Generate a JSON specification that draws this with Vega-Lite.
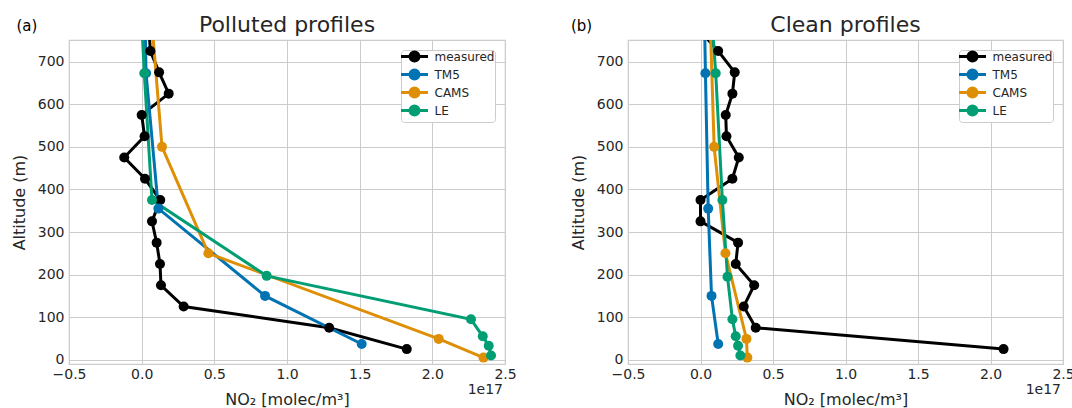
{
  "$schema": "https://vega.github.io/schema/vega-lite/v6.json",
  "background": "white",
  "padding": {"left": 10, "top": 13, "right": 0, "bottom": 2},
  "config": {
    "font": "DejaVu Sans",
    "view": {"stroke": "#cccccc", "strokeWidth": 1.2},
    "axis": {"grid": true, "gridColor": "#cccccc", "gridWidth": 1, "domain": false, "ticks": false, "labelFontSize": 14, "labelColor": "#262626", "titleFontSize": 16, "titleFontWeight": "normal", "titleColor": "#262626", "labelFont": "DejaVu Sans", "titleFont": "DejaVu Sans", "labelFlush": false, "labelOverlap": false},
    "title": {"fontSize": 22, "fontWeight": "normal", "font": "DejaVu Sans", "color": "#262626", "offset": -18},
    "legend": {"title": null, "orient": "top-right", "offset": 10, "padding": 0.5, "fillColor": "white", "strokeColor": "#cccccc", "cornerRadius": 3, "labelFontSize": 12, "labelColor": "#262626", "labelFont": "DejaVu Sans", "symbolType": "M-3.375,0L3.375,0M1.125,0A1.125,1.125,0,1,1,-1.125,0A1.125,1.125,0,1,1,1.125,0Z", "symbolSize": 64, "symbolStrokeWidth": 3, "symbolOffset": 7, "labelOffset": 14, "rowPadding": -4}
  },
  "datasets": {
    "profiles": [
    {"panel": "polluted", "series": "measured", "alt": 25, "no2": 1.824},
    {"panel": "polluted", "series": "measured", "alt": 75, "no2": 1.29},
    {"panel": "polluted", "series": "measured", "alt": 125, "no2": 0.289},
    {"panel": "polluted", "series": "measured", "alt": 175, "no2": 0.133},
    {"panel": "polluted", "series": "measured", "alt": 225, "no2": 0.126},
    {"panel": "polluted", "series": "measured", "alt": 275, "no2": 0.103},
    {"panel": "polluted", "series": "measured", "alt": 325, "no2": 0.071},
    {"panel": "polluted", "series": "measured", "alt": 375, "no2": 0.128},
    {"panel": "polluted", "series": "measured", "alt": 425, "no2": 0.023},
    {"panel": "polluted", "series": "measured", "alt": 475, "no2": -0.12},
    {"panel": "polluted", "series": "measured", "alt": 525, "no2": 0.02},
    {"panel": "polluted", "series": "measured", "alt": 575, "no2": 0.0},
    {"panel": "polluted", "series": "measured", "alt": 625, "no2": 0.186},
    {"panel": "polluted", "series": "measured", "alt": 675, "no2": 0.12},
    {"panel": "polluted", "series": "measured", "alt": 725, "no2": 0.06},
    {"panel": "polluted", "series": "measured", "alt": 775, "no2": 0.05},
    {"panel": "polluted", "series": "TM5", "alt": 37, "no2": 1.514},
    {"panel": "polluted", "series": "TM5", "alt": 150, "no2": 0.849},
    {"panel": "polluted", "series": "TM5", "alt": 355, "no2": 0.115},
    {"panel": "polluted", "series": "TM5", "alt": 673, "no2": 0.03},
    {"panel": "polluted", "series": "TM5", "alt": 850, "no2": 0.021},
    {"panel": "polluted", "series": "CAMS", "alt": 5, "no2": 2.352},
    {"panel": "polluted", "series": "CAMS", "alt": 49, "no2": 2.044},
    {"panel": "polluted", "series": "CAMS", "alt": 250, "no2": 0.459},
    {"panel": "polluted", "series": "CAMS", "alt": 500, "no2": 0.14},
    {"panel": "polluted", "series": "CAMS", "alt": 850, "no2": 0.056},
    {"panel": "polluted", "series": "LE", "alt": 10, "no2": 2.404},
    {"panel": "polluted", "series": "LE", "alt": 33, "no2": 2.388},
    {"panel": "polluted", "series": "LE", "alt": 55, "no2": 2.347},
    {"panel": "polluted", "series": "LE", "alt": 95, "no2": 2.266},
    {"panel": "polluted", "series": "LE", "alt": 197, "no2": 0.86},
    {"panel": "polluted", "series": "LE", "alt": 375, "no2": 0.071},
    {"panel": "polluted", "series": "LE", "alt": 673, "no2": 0.018},
    {"panel": "polluted", "series": "LE", "alt": 850, "no2": -0.008},
    {"panel": "clean", "series": "measured", "alt": 25, "no2": 2.09},
    {"panel": "clean", "series": "measured", "alt": 75, "no2": 0.381},
    {"panel": "clean", "series": "measured", "alt": 125, "no2": 0.298},
    {"panel": "clean", "series": "measured", "alt": 175, "no2": 0.37},
    {"panel": "clean", "series": "measured", "alt": 225, "no2": 0.243},
    {"panel": "clean", "series": "measured", "alt": 275, "no2": 0.259},
    {"panel": "clean", "series": "measured", "alt": 325, "no2": 0.0},
    {"panel": "clean", "series": "measured", "alt": 375, "no2": 0.0},
    {"panel": "clean", "series": "measured", "alt": 425, "no2": 0.22},
    {"panel": "clean", "series": "measured", "alt": 475, "no2": 0.264},
    {"panel": "clean", "series": "measured", "alt": 525, "no2": 0.179},
    {"panel": "clean", "series": "measured", "alt": 575, "no2": 0.174},
    {"panel": "clean", "series": "measured", "alt": 625, "no2": 0.22},
    {"panel": "clean", "series": "measured", "alt": 675, "no2": 0.236},
    {"panel": "clean", "series": "measured", "alt": 725, "no2": 0.122},
    {"panel": "clean", "series": "measured", "alt": 775, "no2": -0.01},
    {"panel": "clean", "series": "TM5", "alt": 37, "no2": 0.122},
    {"panel": "clean", "series": "TM5", "alt": 150, "no2": 0.076},
    {"panel": "clean", "series": "TM5", "alt": 355, "no2": 0.053},
    {"panel": "clean", "series": "TM5", "alt": 673, "no2": 0.034},
    {"panel": "clean", "series": "TM5", "alt": 850, "no2": 0.025},
    {"panel": "clean", "series": "CAMS", "alt": 5, "no2": 0.323},
    {"panel": "clean", "series": "CAMS", "alt": 49, "no2": 0.317},
    {"panel": "clean", "series": "CAMS", "alt": 250, "no2": 0.172},
    {"panel": "clean", "series": "CAMS", "alt": 500, "no2": 0.094},
    {"panel": "clean", "series": "CAMS", "alt": 850, "no2": 0.062},
    {"panel": "clean", "series": "LE", "alt": 10, "no2": 0.275},
    {"panel": "clean", "series": "LE", "alt": 33, "no2": 0.259},
    {"panel": "clean", "series": "LE", "alt": 55, "no2": 0.243},
    {"panel": "clean", "series": "LE", "alt": 95, "no2": 0.22},
    {"panel": "clean", "series": "LE", "alt": 195, "no2": 0.186},
    {"panel": "clean", "series": "LE", "alt": 375, "no2": 0.151},
    {"panel": "clean", "series": "LE", "alt": 673, "no2": 0.105},
    {"panel": "clean", "series": "LE", "alt": 850, "no2": 0.068}
    ],
    "labels": [
      {"panel": "polluted", "tag": "(a)"},
      {"panel": "clean", "tag": "(b)"}
    ]
  },
  "spacing": 52,
  "resolve": {"legend": {"color": "independent"}},
  "hconcat": [
    {
      "title": "Polluted profiles",
      "width": 436,
      "height": 324,
      "layer": [
        {"data": {"name": "profiles"},
         "transform": [{"filter": "datum.panel === 'polluted'"}],
         "mark": {"type": "line", "strokeWidth": 3, "clip": true},
         "encoding": {
           "x": {"field": "no2", "type": "quantitative", "scale": {"domain": [-0.5, 2.5], "nice": false, "zero": false}, "axis": {"values": [-0.5, 0, 0.5, 1, 1.5, 2, 2.5], "format": ".1f", "labelExpr": "replace(datum.label, '-', '−')", "labelPadding": 3, "titlePadding": 10, "title": "NO₂ [molec/m³]"}},
           "y": {"field": "alt", "type": "quantitative", "scale": {"domain": [-10, 751], "nice": false, "zero": false}, "axis": {"values": [0, 100, 200, 300, 400, 500, 600, 700], "labelPadding": 5, "titlePadding": 10, "title": "Altitude (m)"}},
           "order": {"field": "alt", "type": "quantitative"},
           "color": {"field": "series", "type": "nominal", "scale": {"domain": ["measured", "TM5", "CAMS", "LE"], "range": ["#000000", "#0173B2", "#DE8F05", "#029E73"]},
             "legend": {"encode": {"symbols": {"update": {"fill": {"scale": "color", "field": "value"}, "stroke": {"scale": "color", "field": "value"}, "strokeWidth": {"value": 3}, "opacity": {"value": 1}}}}}}}},
        {"data": {"name": "profiles"},
         "transform": [{"filter": "datum.panel === 'polluted'"}],
         "mark": {"type": "point", "filled": true, "size": 100, "opacity": 1, "clip": true},
         "encoding": {
           "x": {"field": "no2", "type": "quantitative"},
           "y": {"field": "alt", "type": "quantitative"},
           "color": {"field": "series", "type": "nominal", "legend": null}}},
        {"data": {"name": "labels"},
         "transform": [{"filter": "datum.panel === 'polluted'"}],
         "mark": {"type": "text", "fontSize": 15, "align": "center", "baseline": "middle", "color": "#000000"},
         "encoding": {"x": {"datum": -0.79, "type": "quantitative"}, "y": {"datum": 784, "type": "quantitative"}, "text": {"field": "tag"}}},
        {"data": {"name": "labels"},
         "transform": [{"filter": "datum.panel === 'polluted'"}],
         "mark": {"type": "text", "fontSize": 14, "align": "right", "baseline": "middle", "color": "#262626", "dx": -2},
         "encoding": {"x": {"datum": 2.5, "type": "quantitative"}, "y": {"datum": -70, "type": "quantitative"}, "text": {"value": "1e17"}}}
      ]
    },
    {
      "title": "Clean profiles",
      "width": 435,
      "height": 324,
      "layer": [
        {"data": {"name": "profiles"},
         "transform": [{"filter": "datum.panel === 'clean'"}],
         "mark": {"type": "line", "strokeWidth": 3, "clip": true},
         "encoding": {
           "x": {"field": "no2", "type": "quantitative", "scale": {"domain": [-0.5, 2.5], "nice": false, "zero": false}, "axis": {"values": [-0.5, 0, 0.5, 1, 1.5, 2, 2.5], "format": ".1f", "labelExpr": "replace(datum.label, '-', '−')", "labelPadding": 3, "titlePadding": 10, "title": "NO₂ [molec/m³]"}},
           "y": {"field": "alt", "type": "quantitative", "scale": {"domain": [-10, 751], "nice": false, "zero": false}, "axis": {"values": [0, 100, 200, 300, 400, 500, 600, 700], "labelPadding": 5, "titlePadding": 10, "title": "Altitude (m)"}},
           "order": {"field": "alt", "type": "quantitative"},
           "color": {"field": "series", "type": "nominal", "scale": {"domain": ["measured", "TM5", "CAMS", "LE"], "range": ["#000000", "#0173B2", "#DE8F05", "#029E73"]},
             "legend": {"encode": {"symbols": {"update": {"fill": {"scale": "color", "field": "value"}, "stroke": {"scale": "color", "field": "value"}, "strokeWidth": {"value": 3}, "opacity": {"value": 1}}}}}}}},
        {"data": {"name": "profiles"},
         "transform": [{"filter": "datum.panel === 'clean'"}],
         "mark": {"type": "point", "filled": true, "size": 100, "opacity": 1, "clip": true},
         "encoding": {
           "x": {"field": "no2", "type": "quantitative"},
           "y": {"field": "alt", "type": "quantitative"},
           "color": {"field": "series", "type": "nominal", "legend": null}}},
        {"data": {"name": "labels"},
         "transform": [{"filter": "datum.panel === 'clean'"}],
         "mark": {"type": "text", "fontSize": 15, "align": "center", "baseline": "middle", "color": "#000000"},
         "encoding": {"x": {"datum": -0.82, "type": "quantitative"}, "y": {"datum": 784, "type": "quantitative"}, "text": {"field": "tag"}}},
        {"data": {"name": "labels"},
         "transform": [{"filter": "datum.panel === 'clean'"}],
         "mark": {"type": "text", "fontSize": 14, "align": "right", "baseline": "middle", "color": "#262626", "dx": -2},
         "encoding": {"x": {"datum": 2.5, "type": "quantitative"}, "y": {"datum": -70, "type": "quantitative"}, "text": {"value": "1e17"}}}
      ]
    }
  ]
}
